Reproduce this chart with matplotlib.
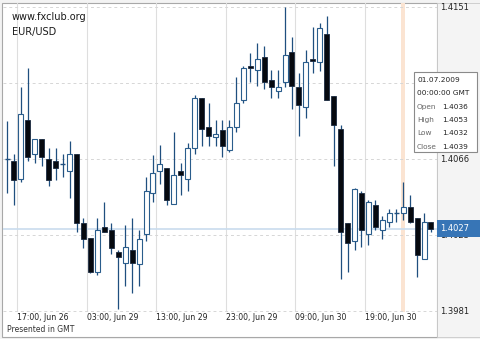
import matplotlib
matplotlib.use("Agg")
import matplotlib.pyplot as plt
from matplotlib.patches import Rectangle
from matplotlib.transforms import ScaledTranslation, blended_transform_factory

# ── Hourly EUR/USD candles ───────────────────────────────────────────────────
opens = [1.4066, 1.4065, 1.4055, 1.4088, 1.4069, 1.4077, 1.4066, 1.4065, 1.4063, 1.4059,
         1.4069, 1.4030, 1.4022, 1.4003, 1.4028, 1.4026, 1.4014, 1.4008, 1.4015, 1.4007,
         1.4024, 1.4047, 1.4059, 1.4061, 1.4041, 1.4059, 1.4055, 1.4072, 1.4100, 1.4084,
         1.4078, 1.4082, 1.4071, 1.4084, 1.4099, 1.4118, 1.4116, 1.4123, 1.4110, 1.4104,
         1.4109, 1.4126, 1.4106, 1.4095, 1.4122, 1.4120, 1.4136, 1.4101, 1.4083, 1.4030,
         1.4020, 1.4047, 1.4024, 1.4040, 1.4026, 1.4031, 1.4036, 1.4036, 1.4039, 1.4033,
         1.4010, 1.4031]
highs = [1.4087, 1.4069, 1.4106, 1.4117, 1.4077, 1.4077, 1.4072, 1.4072, 1.4069, 1.4076,
         1.4069, 1.4033, 1.4022, 1.4033, 1.4042, 1.4030, 1.4015, 1.4029, 1.4033, 1.4026,
         1.4056, 1.4068, 1.4074, 1.4061, 1.4081, 1.4064, 1.4075, 1.4102, 1.4100, 1.4097,
         1.4088, 1.4088, 1.4088, 1.4112, 1.4118, 1.4125, 1.4131, 1.4129, 1.4116, 1.4116,
         1.4151, 1.4134, 1.4114, 1.4127, 1.4140, 1.4142, 1.4146, 1.4101, 1.4085, 1.4030,
         1.4050, 1.4048, 1.4043, 1.4043, 1.4034, 1.4038, 1.4038, 1.4053, 1.4046, 1.4033,
         1.4036, 1.4031]
lows = [1.4047, 1.4040, 1.4053, 1.4065, 1.4064, 1.4062, 1.4051, 1.4054, 1.4056, 1.4044,
        1.4025, 1.4016, 1.4002, 1.4001, 1.4025, 1.4013, 1.3982, 1.3995, 1.3991, 1.3995,
        1.4020, 1.4042, 1.4052, 1.4040, 1.4041, 1.4046, 1.4048, 1.4069, 1.4073, 1.4073,
        1.4073, 1.4067, 1.4070, 1.4081, 1.4097, 1.4109, 1.4107, 1.4105, 1.4100, 1.4100,
        1.4106, 1.4094, 1.4079, 1.4089, 1.4114, 1.4115, 1.4099, 1.4062, 1.3999, 1.4003,
        1.4015, 1.4017, 1.4018, 1.4026, 1.4021, 1.4028, 1.4031, 1.4032, 1.4030, 1.4000,
        1.4010, 1.4025]
closes = [1.4066, 1.4054, 1.4091, 1.4067, 1.4077, 1.4067, 1.4054, 1.4061, 1.4063, 1.4069,
          1.4030, 1.4021, 1.4003, 1.4026, 1.4025, 1.4016, 1.4011, 1.4017, 1.4008, 1.4021,
          1.4048, 1.4058, 1.4063, 1.4043, 1.4057, 1.4057, 1.4072, 1.4100, 1.4083, 1.4079,
          1.4080, 1.4073, 1.4084, 1.4097, 1.4117, 1.4117, 1.4122, 1.4109, 1.4106, 1.4106,
          1.4124, 1.4107, 1.4096, 1.4120, 1.4121, 1.4139, 1.4099, 1.4085, 1.4025, 1.4019,
          1.4049, 1.4026, 1.4042, 1.4028, 1.4032, 1.4036, 1.4036, 1.4039, 1.4031, 1.4012,
          1.4031, 1.4027]

time_tick_bars = [2, 12, 22, 32, 42, 52]
time_tick_labels = ["17:00, Jun 26", "03:00, Jun 29", "13:00, Jun 29",
                    "23:00, Jun 29", "09:00, Jun 30", "19:00, Jun 30"]
price_ticks = [1.4151, 1.41085, 1.4066, 1.40235, 1.3981]
# the 1.4109 label sits under the tooltip in the original, so it is left blank
price_tick_labels = ["1.4151", "", "1.4066", "1.4023", "1.3981"]
last_price = 1.4027
selected_bar = 57
tooltip_rows = [("Open", "1.4036"), ("High", "1.4053"), ("Low", "1.4032"), ("Close", "1.4039")]

W, H = 480, 339
WICK = "#1f4f7f"
EDGE = "#2a5d8c"
DARK = "#06090f"


def fx(x):
    return x / W


def fy(y):
    return 1 - y / H


fig = plt.figure(figsize=(4.8, 3.39), dpi=100, facecolor="#f3f3f3")
# white chart frame
fig.patches.append(Rectangle((fx(2), fy(337)), fx(435), 334 / H, transform=fig.transFigure,
                             facecolor="white", edgecolor="#a8a8a8", lw=0.8, zorder=-2))

ax = fig.add_axes([fx(3), fy(312), fx(434), 309 / H])
ax.set_facecolor("none")
for s in ax.spines.values():
    s.set_visible(False)

ax.set_xlim(-0.576, 61.87)
ax.set_ylim(1.39804, 1.41532)

# grid
ax.set_xticks([b - 0.55 for b in time_tick_bars])
ax.set_xticklabels(time_tick_labels, fontsize=5.6, color="#222222", ha="left")
off = ScaledTranslation(3 / 100, 0, fig.dpi_scale_trans)
for lab in ax.get_xticklabels():
    lab.set_transform(lab.get_transform() + off)
ax.tick_params(axis="x", length=0, pad=1)
ax.xaxis.grid(True, color="#dedede", lw=0.8, ls="-")

ax.yaxis.tick_right()
ax.set_yticks(price_ticks)
ax.set_yticklabels(price_tick_labels, fontsize=6, color="#222222")
ax.tick_params(axis="y", length=0, pad=2)
ax.yaxis.grid(True, color="#d6d6d6", lw=0.7, ls=(0, (3, 3)))
ax.set_axisbelow(True)

# selected-bar band and last-price line
ax.axvspan(selected_bar - 0.3, selected_bar + 0.3, color="#fbe4d2", lw=0, zorder=0.5)
ax.axhline(last_price, color="#c9dcee", lw=1.2, zorder=0.6)

# candles
bw = 0.72
for i, (o, h, l, c) in enumerate(zip(opens, highs, lows, closes)):
    ax.vlines(i, l, h, color=WICK, lw=0.9, zorder=2)
    lo, hi = min(o, c), max(o, c)
    if hi - lo < 0.00002:
        ax.hlines(o, i - bw / 2, i + bw / 2, color=WICK, lw=1.0, zorder=3)
        continue
    if c >= o:
        ax.bar(i, hi - lo, bottom=lo, width=bw, facecolor="white", edgecolor=EDGE,
               lw=0.8, zorder=3)
    else:
        ax.bar(i, hi - lo, bottom=lo, width=bw, facecolor=DARK, edgecolor="#1a2a40",
               lw=0.6, zorder=3)

# right price panel border
fig.patches.append(Rectangle((fx(437), fy(337)), fx(43), 334 / H, transform=fig.transFigure,
                             facecolor="#f4f4f4", edgecolor="#c8c8c8", lw=0.6, zorder=-1))

# last-price label box
bt = blended_transform_factory(ax.transAxes, ax.transData)
ax.add_patch(Rectangle((1.0, last_price - 0.00047), 43 / 434, 0.00094, transform=bt,
                       facecolor="#3775b6", edgecolor="none", clip_on=False, zorder=5))
ax.text(1.0 + 3 / 434, last_price, "1.4027", transform=bt, fontsize=6, color="white",
        va="center", ha="left", zorder=6, clip_on=False)

# header texts
fig.text(fx(12), fy(17), "www.fxclub.org", fontsize=7, color="#1a1a1a", va="center")
fig.text(fx(12), fy(32), "EUR/USD", fontsize=7, color="#1a1a1a", va="center")
fig.text(fx(7), fy(329), "Presented in GMT", fontsize=5.5, color="#333333", va="center")

# tooltip
fig.patches.append(Rectangle((fx(414), fy(152)), fx(63), 80 / H, transform=fig.transFigure,
                             facecolor="white", edgecolor="#8a8a8a", lw=0.8, zorder=4))
fig.text(fx(417), fy(80), "01.07.2009", fontsize=5.3, color="#222222", va="center", zorder=5)
fig.text(fx(417), fy(93), "00:00:00 GMT", fontsize=5.3, color="#222222", va="center", zorder=5)
for k, (name, val) in enumerate(tooltip_rows):
    y = 107 + 13.2 * k
    fig.text(fx(417), fy(y), name, fontsize=5.3, color="#666666", va="center", zorder=5)
    fig.text(fx(442), fy(y), val, fontsize=5.3, color="#222222", va="center", zorder=5)

fig.savefig("out.png", dpi=100, facecolor=fig.get_facecolor())
